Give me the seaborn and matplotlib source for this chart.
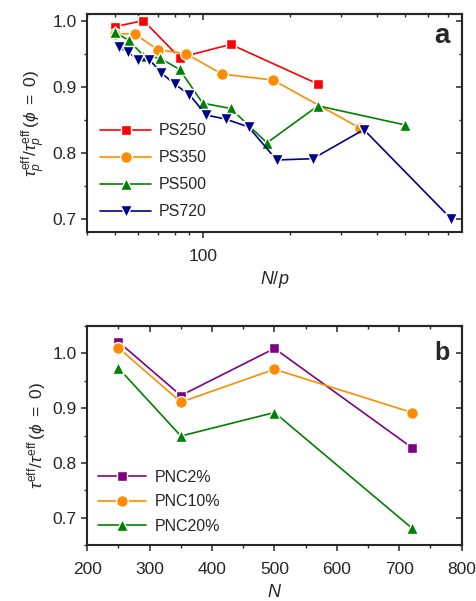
import numpy as np
import pandas as pd
import matplotlib
matplotlib.use("Agg")
import matplotlib.pyplot as plt
import seaborn as sns
from matplotlib.ticker import FixedLocator, FuncFormatter, NullFormatter, MultipleLocator, LogLocator

# ---------------- data: panel a ----------------
ps250_x = [50.0, 62.5, 83.3, 125.0, 250.0]
ps250_y = [0.991, 1.000, 0.944, 0.964, 0.904]

ps350_x = [50.0, 58.3, 70.0, 87.5, 116.7, 175.0, 350.0]
ps350_y = [0.980, 0.980, 0.956, 0.950, 0.919, 0.910, 0.837]

ps500_x = [50.0, 55.6, 62.5, 71.4, 83.3, 100.0, 125.0, 166.7, 250.0, 500.0]
ps500_y = [0.982, 0.970, 0.947, 0.943, 0.926, 0.875, 0.867, 0.815, 0.871, 0.842]

ps720_x = [51.4, 55.4, 60.0, 65.5, 72.0, 80.0, 90.0, 102.9, 120.0, 144.0, 180.0, 240.0, 360.0, 720.0]
ps720_y = [0.960, 0.952, 0.941, 0.941, 0.921, 0.904, 0.888, 0.857, 0.851, 0.839, 0.789, 0.791, 0.835, 0.700]

# ---------------- data: panel b ----------------
n_values = [250, 350, 500, 720]
pnc2_y = [1.021, 0.923, 1.009, 0.828]
pnc10_y = [1.010, 0.911, 0.971, 0.892]
pnc20_y = [0.973, 0.849, 0.892, 0.681]

labels_a = ["PS250", "PS350", "PS500", "PS720"]
labels_b = ["PNC2%", "PNC10%", "PNC20%"]

sns.set_style("ticks")
plt.rcParams["font.family"] = ["Liberation Sans", "DejaVu Sans"]
plt.rcParams["mathtext.fontset"] = "custom"
plt.rcParams["mathtext.rm"] = "Liberation Sans"
plt.rcParams["mathtext.it"] = "Liberation Sans:italic"
plt.rcParams["mathtext.bf"] = "Liberation Sans:bold"

fig = plt.figure(figsize=(4.77, 6.01), dpi=100)
W, H = 477, 601
def rect(l, t, r, b):
    return [l / W, 1 - b / H, (r - l) / W, (b - t) / H]

ax_a = fig.add_axes(rect(87.3, 14, 462, 232))
ax_b = fig.add_axes(rect(87.3, 326, 461.7, 545))

df_a = pd.concat([
    pd.DataFrame({"x": xs, "y": ys, "series": lab})
    for xs, ys, lab in [(ps250_x, ps250_y, labels_a[0]), (ps350_x, ps350_y, labels_a[1]),
                        (ps500_x, ps500_y, labels_a[2]), (ps720_x, ps720_y, labels_a[3])]
])
df_b = pd.concat([
    pd.DataFrame({"x": n_values, "y": ys, "series": lab})
    for ys, lab in [(pnc2_y, labels_b[0]), (pnc10_y, labels_b[1]), (pnc20_y, labels_b[2])]
])

colors_a = {"PS250": "#FF0000", "PS350": "#FF8C00", "PS500": "#008000", "PS720": "#00008B"}
markers_a = {"PS250": "s", "PS350": "o", "PS500": "^", "PS720": "v"}
msize_a = {"PS250": 7.5, "PS350": 8.5, "PS500": 9, "PS720": 9}
colors_b = {"PNC2%": "#800080", "PNC10%": "#FF8C00", "PNC20%": "#008000"}
markers_b = {"PNC2%": "s", "PNC10%": "o", "PNC20%": "^"}
msize_b = {"PNC2%": 7.5, "PNC10%": 8.5, "PNC20%": 9}

ax_a.set_xscale("log")
for lab in labels_a:
    sub = df_a[df_a["series"] == lab]
    sns.lineplot(data=sub, x="x", y="y", ax=ax_a, color=colors_a[lab], marker=markers_a[lab],
                 markersize=msize_a[lab], markeredgecolor="white", markeredgewidth=1.0,
                 linewidth=1.2, label=lab, sort=False)
for lab in labels_b:
    sub = df_b[df_b["series"] == lab]
    sns.lineplot(data=sub, x="x", y="y", ax=ax_b, color=colors_b[lab], marker=markers_b[lab],
                 markersize=msize_b[lab], markeredgecolor="white", markeredgewidth=1.0,
                 linewidth=1.2, label=lab, sort=False)

# ---------- axes a ----------
ax_a.set_xlim(40, 785)
ax_a.set_ylim(0.68, 1.01)
ax_a.xaxis.set_major_locator(FixedLocator([100]))
ax_a.xaxis.set_major_formatter(FuncFormatter(lambda v, p: f"{v:g}"))
ax_a.xaxis.set_minor_locator(LogLocator(base=10, subs=np.arange(2, 10)))
ax_a.xaxis.set_minor_formatter(NullFormatter())
ax_a.yaxis.set_major_locator(MultipleLocator(0.1))
ax_a.yaxis.set_minor_locator(MultipleLocator(0.05))
ax_a.yaxis.set_major_formatter(FuncFormatter(lambda v, p: f"{v:.1f}"))
ax_a.set_xlabel(r"$N/p$", fontsize=13, labelpad=4)
ax_a.set_ylabel(r"$\tau_p^{\mathrm{eff}}/\tau_p^{\mathrm{eff}}\,(\phi\ =\ 0)$", fontsize=12.5, labelpad=3)

# ---------- axes b ----------
ax_b.set_xlim(200, 800)
ax_b.set_ylim(0.65, 1.05)
ax_b.xaxis.set_major_locator(MultipleLocator(100))
ax_b.xaxis.set_minor_locator(MultipleLocator(50))
ax_b.yaxis.set_major_locator(MultipleLocator(0.1))
ax_b.yaxis.set_minor_locator(MultipleLocator(0.05))
ax_b.yaxis.set_major_formatter(FuncFormatter(lambda v, p: f"{v:.1f}"))
ax_b.set_xlabel(r"$N$", fontsize=13, labelpad=5)
ax_b.set_ylabel(r"$\tau^{\mathrm{eff}}/\tau^{\mathrm{eff}}\,(\phi\ =\ 0)$", fontsize=12.5, labelpad=3)

for ax in (ax_a, ax_b):
    for s in ax.spines.values():
        s.set_linewidth(1.5)
        s.set_visible(True)
    ax.tick_params(which="major", direction="out", length=4.5, width=1.1, labelsize=12.5)
    ax.tick_params(axis="x", which="major", pad=7.5)
    ax.tick_params(axis="y", which="major", pad=3)
    ax.tick_params(which="minor", direction="out", length=2.5, width=1.0)
    sx = ax.secondary_xaxis("top")
    sy = ax.secondary_yaxis("right")
    if ax is ax_a:
        sx.xaxis.set_major_locator(FixedLocator([100]))
        sx.xaxis.set_minor_locator(LogLocator(base=10, subs=np.arange(2, 10)))
    else:
        sx.xaxis.set_major_locator(MultipleLocator(100))
        sx.xaxis.set_minor_locator(MultipleLocator(50))
    sy.yaxis.set_major_locator(MultipleLocator(0.1))
    sy.yaxis.set_minor_locator(MultipleLocator(0.05))
    for sec, axis in ((sx, sx.xaxis), (sy, sy.yaxis)):
        sec.tick_params(which="major", direction="in", length=4.5, width=1.1)
        sec.tick_params(which="minor", direction="in", length=2.5, width=1.0)
        axis.set_major_formatter(NullFormatter())
        axis.set_minor_formatter(NullFormatter())
        for s in sec.spines.values():
            s.set_linewidth(1.5)

leg_a = ax_a.legend(loc="lower left", bbox_to_anchor=(0.0, 0.0), frameon=False, fontsize=11.5,
                    handlelength=3.2, handletextpad=0.5, labelspacing=0.75, borderaxespad=0.4)
leg_b = ax_b.legend(loc="lower left", bbox_to_anchor=(0.0, 0.0), frameon=False, fontsize=11.5,
                    handlelength=3.0, handletextpad=0.5, labelspacing=0.6, borderaxespad=0.3)

ax_a.text(0.968, 0.867, "a", transform=ax_a.transAxes, fontsize=20, fontweight="bold",
          ha="right", va="baseline")
ax_b.text(0.969, 0.845, "b", transform=ax_b.transAxes, fontsize=18, fontweight="bold",
          ha="right", va="baseline")

fig.savefig("out.png", dpi=100)
